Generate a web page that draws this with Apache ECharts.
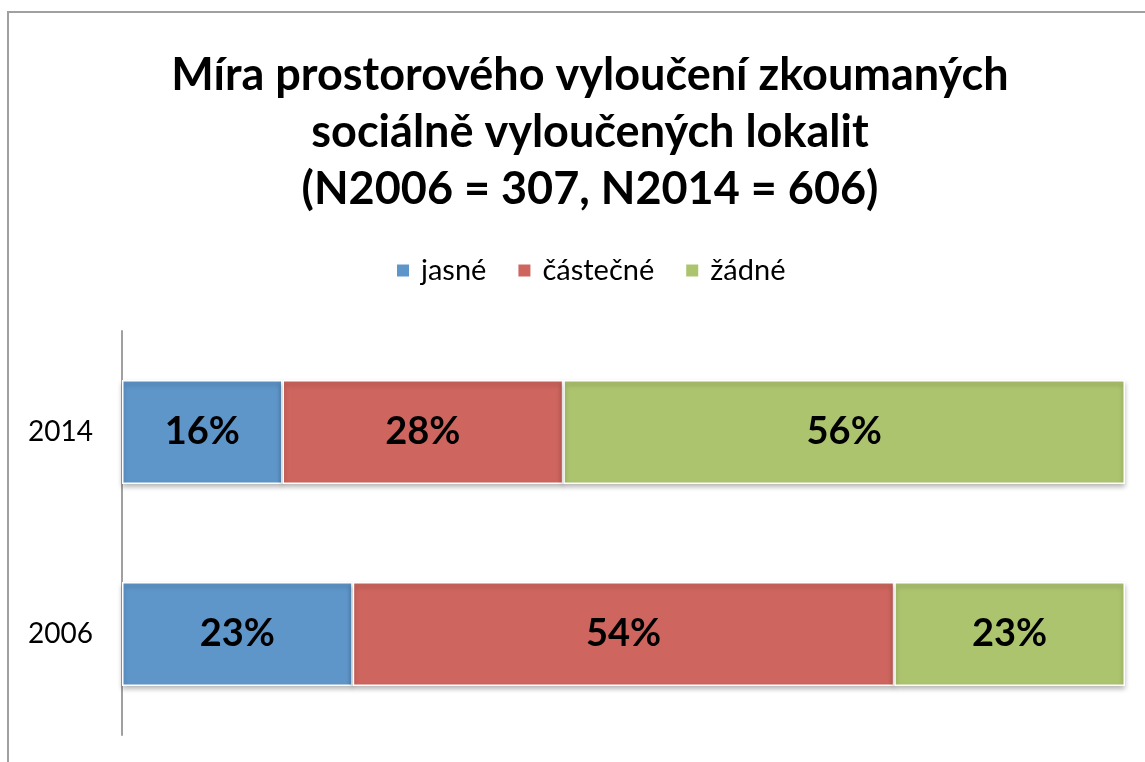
<!DOCTYPE html>
<html><head><meta charset="utf-8">
<script src="https://cdn.jsdelivr.net/npm/echarts@6/dist/echarts.min.js"></script>
<style>html,body{margin:0;padding:0;background:#fff}#c{width:1145px;height:762px}</style>
</head><body><div id="c"></div>
<script>
const categories = ['2006', '2014'];
const seriesNames = ['jasné', 'částečné', 'žádné'];
const jasne = [23, 16];
const castecne = [54, 28];
const zadne = [23, 56];
const colors = ['#5F96CA', '#CE655E', '#ADC46F'];
const values = [jasne, castecne, zadne];

const chart = echarts.init(document.getElementById('c'));
const font = 'Lato, "Open Sans", sans-serif';
chart.setOption({
  animation: false,
  backgroundColor: '#fff',
  title: {
    text: 'Míra prostorového vyloučení zkoumaných\nsociálně vyloučených lokalit\n(N2006 = 307, N2014 = 606)',
    left: 585, top: 42, textAlign: 'center',
    textStyle: { fontFamily: font, fontWeight: 'bold', fontSize: 45, lineHeight: 57, color: '#000' }
  },
  legend: {
    top: 251, left: 390, itemWidth: 14, itemHeight: 14, itemGap: 30,
    icon: 'rect',
    textStyle: { fontFamily: font, fontSize: 29, color: '#000', padding: [0, 0, 0, 6] },
    data: seriesNames
  },
  grid: { left: 122, right: 20, top: 331, bottom: 27 },
  xAxis: { type: 'value', min: 0, max: 100, show: false },
  yAxis: {
    type: 'category', data: categories,
    axisLine: { lineStyle: { color: '#a0a0a0', width: 2 } },
    axisTick: { show: false },
    axisLabel: { fontFamily: font, fontSize: 28, color: '#000', margin: 29 }
  },
  graphic: [{
    type: 'rect', shape: { x: 8, y: 12, width: 1200, height: 800 },
    style: { fill: 'none', stroke: '#a0a0a0', lineWidth: 2 }, silent: true, z: -1
  }],
  series: seriesNames.map((n, i) => ({
    name: n, type: 'bar', stack: 'all', barWidth: 104,
    data: values[i],
    itemStyle: { color: colors[i], borderColor: '#fff', borderWidth: 1.5,
      shadowBlur: 5, shadowOffsetY: 3, shadowColor: 'rgba(0,0,0,0.3)' },
    label: { show: true, formatter: '{c}%', fontFamily: font, fontWeight: 'bold', fontSize: 38, color: '#000' }
  }))
});
</script></body></html>
